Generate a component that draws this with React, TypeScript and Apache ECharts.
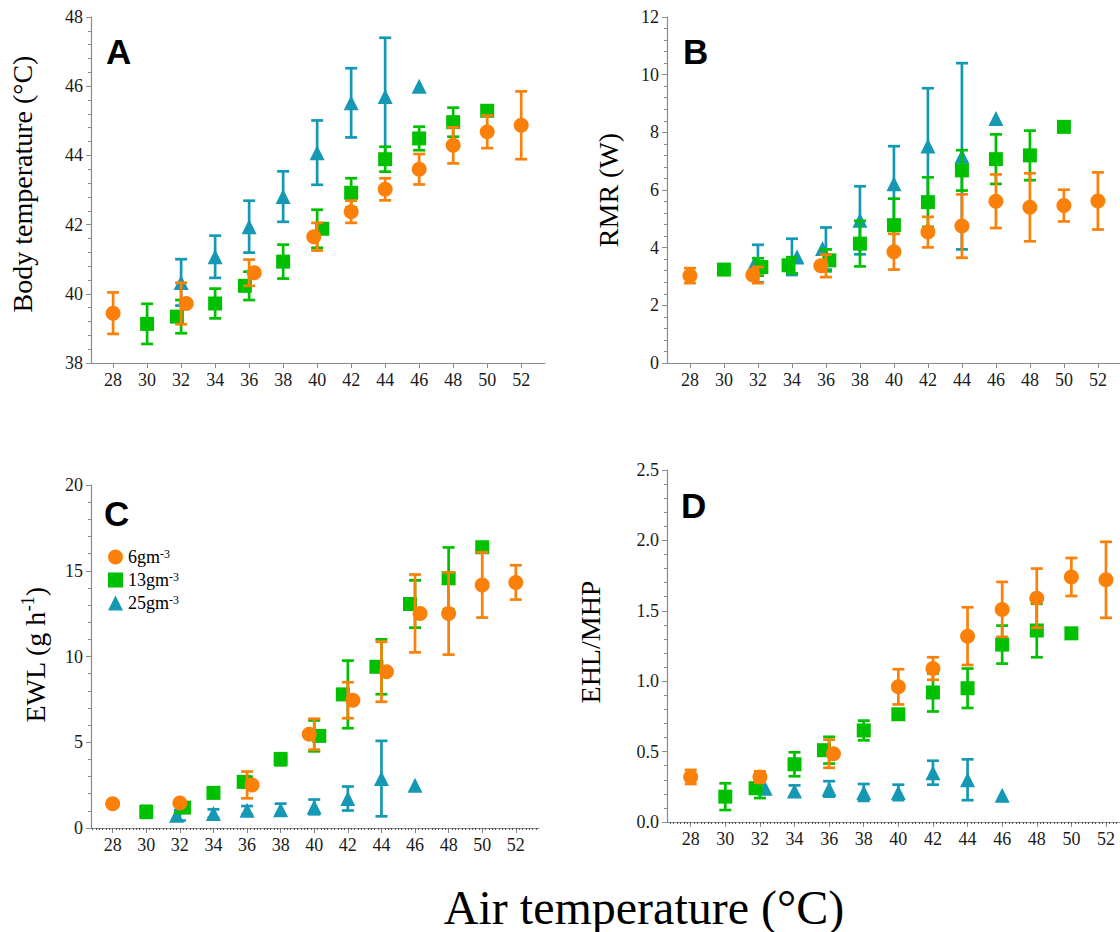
import React, { useEffect, useRef } from "react";
import * as echarts from "echarts";

// ---------- data ----------
const xTickValues = [28, 30, 32, 34, 36, 38, 40, 42, 44, 46, 48, 50, 52];

// Panel A: body temperature (°C)
const tbX6 = [28, 32.3, 36.3, 39.8, 42, 44, 46, 48, 50, 52];
const tbM6 = [39.44, 39.72, 40.61, 41.65, 42.37, 43.02, 43.6, 44.29, 44.68, 44.87];
const tbE6 = [0.6, 0.6, 0.38, 0.4, 0.32, 0.32, 0.44, 0.52, 0.47, 0.98];
const tbX13 = [30, 31.75, 34, 35.75, 38, 40.3, 42, 44, 46, 48, 50];
const tbM13 = [39.13, 39.34, 39.72, 40.23, 40.93, 41.88, 42.92, 43.89, 44.49, 44.96, 45.29];
const tbE13 = [0.58, 0.48, 0.43, 0.41, 0.49, 0.55, 0.42, 0.36, 0.34, 0.42, null];
const tbX25 = [32, 34, 36, 38, 40, 42, 44, 46];
const tbM25 = [40.33, 41.07, 41.94, 42.81, 44.08, 45.52, 45.7, 46.0];
const tbE25 = [0.67, 0.61, 0.75, 0.73, 0.93, 1.0, 1.7, null];

// Panel B: RMR (W)
const rmrX6 = [28, 31.7, 35.7, 40, 42, 44, 46, 48, 50, 52];
const rmrM6 = [3.03, 3.05, 3.37, 3.86, 4.54, 4.75, 5.61, 5.4, 5.46, 5.62];
const rmrE6 = [0.26, 0.28, 0.39, 0.62, 0.53, 1.1, 0.93, 1.18, 0.55, 0.99];
const rmrX13 = [30, 32.2, 33.8, 36.2, 38, 40, 42, 44, 46, 48, 50];
const rmrM13 = [3.24, 3.33, 3.39, 3.56, 4.14, 4.78, 5.58, 6.68, 7.07, 7.2, 8.19];
const rmrE13 = [0.1, 0.3, 0.28, 0.38, 0.79, 0.92, 0.86, 0.7, 0.86, 0.86, null];
const rmrX25 = [31.8, 34.3, 35.8, 38, 40, 42, 44, 46];
const rmrM25 = [3.45, 3.68, 3.97, 4.95, 6.22, 7.53, 7.17, 8.48];
const rmrE25 = [0.65, 0.63, 0.73, 1.18, 1.3, 2.0, 3.23, null];

// Panel C: EWL (g h-1)
const ewlX6 = [28, 32, 36.3, 39.7, 42.3, 44.3, 46.3, 48, 50, 52];
const ewlM6 = [1.42, 1.46, 2.51, 5.47, 7.45, 9.11, 12.51, 12.51, 14.17, 14.32];
const ewlE6 = [0.15, 0.15, 0.78, 0.9, 1.05, 1.75, 2.27, 2.4, 1.9, 1.0];
const ewlX13 = [30, 32.25, 34, 35.8, 38, 40.3, 41.7, 43.7, 45.7, 48, 50];
const ewlM13 = [0.94, 1.19, 2.05, 2.69, 4.01, 5.37, 7.79, 9.4, 13.06, 14.56, 16.37];
const ewlE13 = [0.35, 0.3, 0.3, 0.3, 0.35, 0.9, 1.97, 1.6, 1.38, 1.8, null];
const ewlX25 = [31.8, 34, 36, 38, 40, 42, 44, 46];
const ewlM25 = [0.74, 0.84, 1.03, 1.07, 1.23, 1.72, 2.88, 2.49];
const ewlE25 = [0.3, 0.25, 0.25, 0.35, 0.43, 0.7, 2.2, null];

// Panel D: EHL/MHP
const ehlX6 = [28, 32, 36.25, 40, 42, 44, 46, 48, 50, 52];
const ehlM6 = [0.32, 0.32, 0.485, 0.96, 1.09, 1.32, 1.51, 1.59, 1.74, 1.72];
const ehlE6 = [0.05, 0.04, 0.1, 0.125, 0.08, 0.205, 0.195, 0.21, 0.135, 0.27];
const ehlX13 = [30, 31.75, 34, 35.7, 38, 40, 42, 44, 46, 48, 50];
const ehlM13 = [0.18, 0.24, 0.41, 0.51, 0.65, 0.765, 0.92, 0.95, 1.26, 1.36, 1.34];
const ehlE13 = [0.095, 0.07, 0.085, 0.095, 0.07, 0.03, 0.135, 0.14, 0.135, 0.19, null];
const ehlX25 = [32.3, 34, 36, 38, 40, 42, 44, 46];
const ehlM25 = [0.24, 0.22, 0.235, 0.21, 0.21, 0.35, 0.3, 0.19];
const ehlE25 = [0.03, 0.04, 0.055, 0.06, 0.055, 0.085, 0.145, null];

const groupNames = ["6gm-3", "13gm-3", "25gm-3"];

// ---------- styling ----------
const C6 = "#FA800A";
const C13 = "#00C000";
const C25 = "#1498B4";
const SERIF = "Liberation Serif";
const AXIS_GREY = "#8a8a8a";

const grids = [
  { left: 91, top: 17, width: 454, height: 346 },
  { left: 667, top: 17, width: 453, height: 346 },
  { left: 91, top: 485, width: 448, height: 343 },
  { left: 667, top: 470, width: 453, height: 352 },
];
const xRanges = [
  [26.7, 53.4],
  [26.65, 53.3],
  [26.71, 53.38],
  [26.63, 52.81],
];
const yCfg = [
  { min: 38, max: 48, interval: 2, dec: 0 },
  { min: 0, max: 12, interval: 2, dec: 0 },
  { min: 0, max: 20, interval: 5, dec: 0 },
  { min: 0, max: 2.5, interval: 0.5, dec: 1 },
];

const nominal = (x: number) => Math.round(x / 2) * 2;

function pts(xs: number[], ms: number[]) {
  return xs.map((x, i) => [x, ms[i]]);
}
function errs(xs: number[], ms: number[], es: (number | null)[]) {
  const out: number[][] = [];
  xs.forEach((x, i) => {
    const e = es[i];
    if (e != null) out.push([nominal(x), ms[i] - e, ms[i] + e]);
  });
  return out;
}

function errSeries(data: number[][], color: string, idx: number, z: number) {
  return {
    type: "custom",
    name: "err" + idx + color,
    xAxisIndex: idx,
    yAxisIndex: idx,
    z,
    silent: true,
    data,
    encode: { x: 0, y: [1, 2] },
    renderItem: (params: any, api: any) => {
      const x = api.value(0);
      const a = api.coord([x, api.value(1)]);
      const b = api.coord([x, api.value(2)]);
      const w = 6;
      const st = { stroke: color, lineWidth: 2.7 };
      return {
        type: "group",
        children: [
          { type: "line", shape: { x1: a[0], y1: a[1], x2: b[0], y2: b[1] }, style: st },
          { type: "line", shape: { x1: a[0] - w, y1: a[1], x2: a[0] + w, y2: a[1] }, style: st },
          { type: "line", shape: { x1: b[0] - w, y1: b[1], x2: b[0] + w, y2: b[1] }, style: st },
        ],
      };
    },
  };
}

function scat(name: string, data: number[][], color: string, symbol: string, size: number, idx: number, z: number) {
  return {
    type: "scatter",
    name,
    xAxisIndex: idx,
    yAxisIndex: idx,
    z,
    symbol,
    symbolSize: size,
    itemStyle: { color, opacity: 1 },
    data,
  };
}

const panels = [
  [tbX6, tbM6, tbE6, tbX13, tbM13, tbE13, tbX25, tbM25, tbE25],
  [rmrX6, rmrM6, rmrE6, rmrX13, rmrM13, rmrE13, rmrX25, rmrM25, rmrE25],
  [ewlX6, ewlM6, ewlE6, ewlX13, ewlM13, ewlE13, ewlX25, ewlM25, ewlE25],
  [ehlX6, ehlM6, ehlE6, ehlX13, ehlM13, ehlE13, ehlX25, ehlM25, ehlE25],
] as any[];

function minorTickValues(min: number, max: number) {
  const v: number[] = [];
  for (let k = Math.ceil(min * 5); k <= Math.floor(max * 5); k++) v.push(k / 5);
  return v;
}

const tickRich = { n: { fontFamily: SERIF, fontSize: 18, color: "#1a1a1a", lineHeight: 20 } };

function buildOption() {
  const series: any[] = [];
  panels.forEach((p: any[], i: number) => {
    const [x6, m6, e6, x13, m13, e13, x25, m25, e25] = p;
    series.push(errSeries(errs(x25, m25, e25), C25, i, 2));
    series.push(scat(groupNames[2], pts(x25, m25), C25, "triangle", 15, i, 3));
    series.push(errSeries(errs(x13, m13, e13), C13, i, 4));
    series.push(scat(groupNames[1], pts(x13, m13), C13, "rect", 14, i, 5));
    series.push(errSeries(errs(x6, m6, e6), C6, i, 6));
    series.push(scat(groupNames[0], pts(x6, m6), C6, "circle", 15, i, 7));
  });

  const xAxis: any[] = grids.map((g, i) => ({
    type: "value",
    gridIndex: i,
    min: xRanges[i][0],
    max: xRanges[i][1],
    position: "bottom",
    axisLine: { show: true, lineStyle: { color: AXIS_GREY, width: 1.2 } },
    axisTick: { show: true, customValues: xTickValues, length: 5, lineStyle: { color: AXIS_GREY } },
    axisLabel: {
      show: true,
      customValues: xTickValues,
      margin: 7,
      fontFamily: SERIF,
      fontSize: 18,
      color: "#1a1a1a",
      formatter: (v: number) => "{n|" + v + "}",
      rich: tickRich,
    },
    splitLine: { show: false },
  }));
  [2, 3].forEach((i) => {
    xAxis.push({
      type: "value",
      gridIndex: i,
      min: xRanges[i][0],
      max: xRanges[i][1],
      position: "bottom",
      axisLine: { show: false },
      axisTick: {
        show: true,
        customValues: minorTickValues(xRanges[i][0], xRanges[i][1]),
        length: 2,
        lineStyle: { color: "#555" },
      },
      axisLabel: { show: false },
      splitLine: { show: false },
    });
  });

  const yAxis = grids.map((g, i) => ({
    type: "value",
    gridIndex: i,
    min: yCfg[i].min,
    max: yCfg[i].max,
    interval: yCfg[i].interval,
    axisLine: { show: true, lineStyle: { color: AXIS_GREY, width: 1.2 } },
    axisTick: { show: true, length: 5, lineStyle: { color: AXIS_GREY } },
    minorTick: { show: true, splitNumber: 5, length: 3, lineStyle: { color: AXIS_GREY } },
    axisLabel: {
      margin: 8,
      fontFamily: SERIF,
      fontSize: 18,
      color: "#1a1a1a",
      formatter: (v: number) => "{n|" + v.toFixed(yCfg[i].dec) + "}",
      rich: tickRich,
    },
    splitLine: { show: false },
    minorSplitLine: { show: false },
  }));

  const titleFont = { fontFamily: SERIF, fontSize: 28, fill: "#000" };
  const letterFont = { fontFamily: "Liberation Sans", fontSize: 35, fontWeight: "bold", fill: "#000" };
  const rot = Math.PI / 2;

  const graphic: any[] = [
    { type: "text", x: 22, y: 184, rotation: rot, style: { text: "Body temperature (°C)", ...titleFont, textAlign: "center", textVerticalAlign: "middle" } },
    { type: "text", x: 608, y: 190, rotation: rot, style: { text: "RMR (W)", ...titleFont, textAlign: "center", textVerticalAlign: "middle" } },
    {
      type: "text",
      x: 35,
      y: 655,
      rotation: rot,
      style: {
        text: "{a|EWL (g h}{s|-1}{a|)}",
        ...titleFont,
        textAlign: "center",
        textVerticalAlign: "middle",
        rich: {
          a: { fontFamily: SERIF, fontSize: 28, lineHeight: 32, fill: "#000" },
          s: { fontFamily: SERIF, fontSize: 18, lineHeight: 18, verticalAlign: "top", fill: "#000" },
        },
      },
    },
    { type: "text", x: 590, y: 642, rotation: rot, style: { text: "EHL/MHP", ...titleFont, textAlign: "center", textVerticalAlign: "middle" } },
    { type: "text", x: 644, y: 907, style: { text: "Air temperature (°C)", fontFamily: SERIF, fontSize: 48, fill: "#000", textAlign: "center", textVerticalAlign: "middle" } },
    { type: "text", x: 106, y: 51, style: { text: "A", ...letterFont, textAlign: "left", textVerticalAlign: "middle" } },
    { type: "text", x: 683, y: 51, style: { text: "B", ...letterFont, textAlign: "left", textVerticalAlign: "middle" } },
    { type: "text", x: 104, y: 513, style: { text: "C", ...letterFont, textAlign: "left", textVerticalAlign: "middle" } },
    { type: "text", x: 681, y: 505, style: { text: "D", ...letterFont, textAlign: "left", textVerticalAlign: "middle" } },
  ];

  return {
    animation: false,
    backgroundColor: "#fff",
    textStyle: { fontFamily: SERIF },
    grid: grids.map((g) => ({ ...g, containLabel: false })),
    xAxis,
    yAxis,
    legend: {
      left: 103,
      top: 543,
      orient: "vertical",
      itemWidth: 15,
      itemHeight: 15,
      itemGap: 5,
      itemTextGap: 10,
      selectedMode: false,
      data: [
        { name: groupNames[0], icon: "circle" },
        { name: groupNames[1], icon: "rect" },
        { name: groupNames[2], icon: "triangle" },
      ],
      formatter: (name: string) => {
        const base = name.replace("-3", "");
        return "{a|" + base + "}{s|-3}";
      },
      textStyle: {
        fontFamily: SERIF,
        rich: {
          a: { fontFamily: SERIF, fontSize: 18, lineHeight: 18, color: "#000" },
          s: { fontFamily: SERIF, fontSize: 12, lineHeight: 12, verticalAlign: "top", color: "#000" },
        },
      },
    },
    graphic,
    series,
  };
}

export default function App() {
  const ref = useRef<HTMLDivElement>(null);
  useEffect(() => {
    if (!ref.current) return;
    const chart = echarts.init(ref.current, undefined, { renderer: "svg" });
    chart.setOption(buildOption() as any);
    return () => chart.dispose();
  }, []);
  return (
    <div
      ref={ref}
      style={{ position: "absolute", left: 0, top: 0, width: 1120, height: 932, background: "#fff" }}
    />
  );
}
